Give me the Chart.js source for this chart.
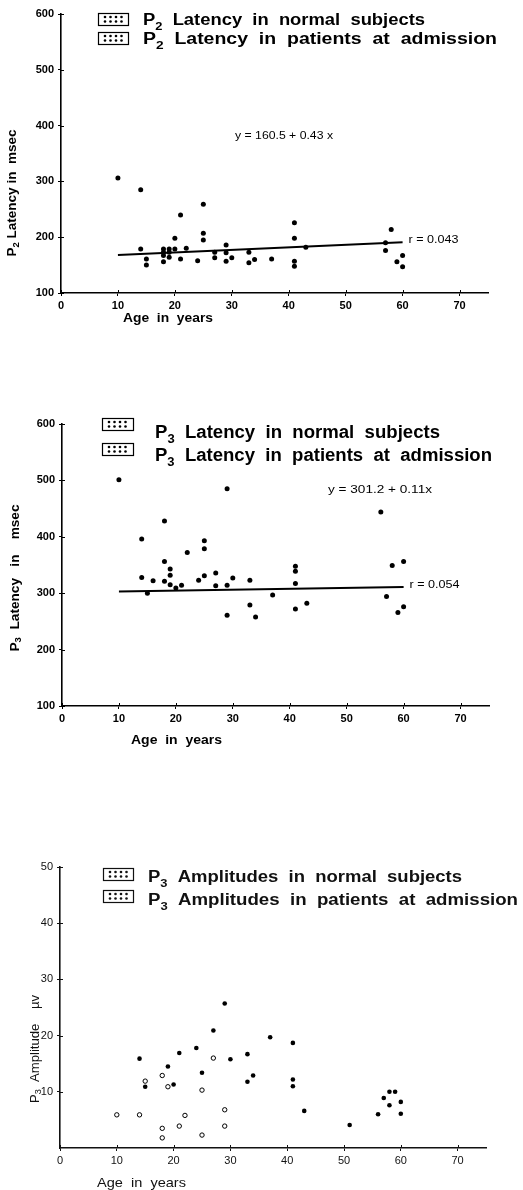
<!DOCTYPE html>
<html lang="en">
<head>
<meta charset="UTF-8">
<title>P2 / P3 latency and P3 amplitude by age</title>
<script src="https://cdn.jsdelivr.net/npm/chart.js"></script>
<style>
  body { margin: 0; background: #fff; }
  .panel { position: absolute; left: 0; width: 523px; }
  canvas { display: block; }
</style>
</head>
<body>

<div class="panel" style="top:0px"><canvas id="p2Chart" width="523" height="340"></canvas></div>
<div class="panel" style="top:400px"><canvas id="p3Chart" width="523" height="360"></canvas></div>
<div class="panel" style="top:840px"><canvas id="ampChart" width="523" height="350"></canvas></div>

<script>
// tick labels
const ageTicks = [0, 10, 20, 30, 40, 50, 60, 70];
const latencyTicks = [100, 200, 300, 400, 500, 600];
const amplitudeTicks = [10, 20, 30, 40, 50];

// P2 latency (msec) by age
const p2Ages = [10, 14, 14, 15, 15, 18, 18, 18, 18, 19, 19, 19, 20, 20, 21, 21, 22, 24, 25, 25, 25,
                27, 27, 29, 29, 29, 30, 33, 33, 34, 37, 41, 41, 41, 41, 43, 57, 57, 58, 59, 60, 60];
const p2Latency = [306, 285, 179, 161, 150, 179, 173, 167, 156, 179, 173, 164, 179, 198, 240, 161, 180, 158, 259, 207, 195,
                   173, 163, 186, 172, 157, 163, 173, 154, 160, 161, 226, 198, 157, 148, 182, 190, 176, 214, 156, 167, 147];
const p2FitAges = [10, 60];
const p2FitLatency = [168, 191];

// P3 latency (msec) by age
const p3Ages = [10, 14, 14, 15, 16, 18, 18, 18, 19, 19, 19, 20, 21, 22, 24, 25, 25, 25, 27, 27,
                29, 29, 29, 30, 33, 33, 34, 37, 41, 41, 41, 41, 43, 56, 57, 58, 59, 60, 60];
const p3Latency = [501, 396, 328, 300, 322, 428, 356, 321, 343, 332, 315, 309, 314, 372, 323, 393, 379, 331, 336, 313,
                   485, 314, 261, 327, 323, 279, 258, 297, 348, 339, 317, 272, 282, 444, 294, 349, 266, 356, 276];
const p3FitAges = [10, 60];
const p3FitLatency = [303, 311];

// P3 amplitude (µv) by age
const ampNormalAges = [10, 14, 15, 18, 18, 18, 19, 21, 22, 25, 25, 27, 29, 29];
const ampNormal = [5.9, 5.9, 11.9, 12.9, 3.5, 1.8, 10.9, 3.9, 5.8, 10.3, 2.3, 16.0, 6.8, 3.9];
const ampPatientAges = [14, 15, 19, 20, 21, 24, 25, 27, 29, 30, 33, 33, 34, 37, 41, 41, 41, 43, 51,
                        56, 57, 58, 58, 59, 60, 60];
const ampPatient = [15.9, 10.9, 14.5, 11.3, 16.9, 17.8, 13.4, 20.9, 25.7, 15.8, 16.7, 11.8, 12.9, 19.7, 18.7, 12.2, 11.0, 6.6, 4.1,
                    6.0, 8.9, 10.0, 7.6, 10.0, 8.2, 6.1];

const FAMILY = '"Liberation Sans", Arial, sans-serif';

function pts(xs, ys) {
    return xs.map((x, i) => ({ x: x, y: ys[i] }));
}

// text with subscripts, optionally stretched to a given width
function drawRich(ctx, parts, x, y, size, weight, width) {
    ctx.save();
    let w = 0;
    parts.forEach(p => {
        ctx.font = weight + ' ' + (p.sub ? size * 0.7 : size) + 'px ' + FAMILY;
        w += ctx.measureText(p.t).width;
    });
    const sx = width ? width / w : 1;
    ctx.translate(x, y);
    ctx.scale(sx, 1);
    let cx = 0;
    parts.forEach(p => {
        ctx.font = weight + ' ' + (p.sub ? size * 0.7 : size) + 'px ' + FAMILY;
        ctx.fillText(p.t, cx, p.sub ? size * 0.3 : 0);
        cx += ctx.measureText(p.t).width;
    });
    ctx.restore();
}

function drawIcon(ctx, x, y, w, h) {
    ctx.save();
    ctx.lineWidth = 1.2;
    ctx.strokeRect(x + 0.5, y + 0.5, w, h);
    for (let r = 0; r < 2; r++) {
        for (let c = 0; c < 4; c++) {
            ctx.beginPath();
            ctx.arc(x + 7 + c * 5.5, y + 4 + r * 4.5, 1.3, 0, Math.PI * 2);
            ctx.fill();
        }
    }
    ctx.restore();
}

function decorPlugin(p) {
    return {
        id: 'decor',
        afterDatasetsDraw(chart) {
            const ctx = chart.ctx;
            const area = chart.chartArea;
            ctx.save();
            ctx.fillStyle = p.textColor;
            ctx.strokeStyle = p.textColor;
            ctx.textBaseline = 'alphabetic';

            // small inner tick marks so ticks cross the axes
            ctx.lineWidth = 1;
            ctx.beginPath();
            chart.scales.x.ticks.forEach((t, i) => {
                const px = Math.round(chart.scales.x.getPixelForTick(i)) + 0.5;
                ctx.moveTo(px, area.bottom);
                ctx.lineTo(px, area.bottom - 3);
            });
            chart.scales.y.ticks.forEach((t, i) => {
                const py = Math.round(chart.scales.y.getPixelForTick(i)) + 0.5;
                ctx.moveTo(area.left, py);
                ctx.lineTo(area.left + 3, py);
            });
            ctx.stroke();

            // legend
            p.legend.forEach(l => {
                drawIcon(ctx, l.ix, l.iy, l.iw, 12);
                drawRich(ctx, l.parts, l.tx, l.ty, l.size, 'bold', l.width);
            });

            // y title, rotated
            const yt = p.yTitle;
            ctx.save();
            ctx.translate(yt.x, yt.cy);
            ctx.rotate(-Math.PI / 2);
            ctx.textBaseline = 'middle';
            drawRich(ctx, yt.parts, -yt.len / 2, 0, yt.size, yt.weight, yt.len);
            ctx.restore();

            // x title
            const xt = p.xTitle;
            drawRich(ctx, [{ t: 'Age  in  years' }], xt.x, xt.y, xt.size, xt.weight, xt.width);

            // regression labels
            if (p.eq) {
                ctx.textBaseline = 'middle';
                drawRich(ctx, [{ t: p.eq.text }], p.eq.x, p.eq.y, p.eq.size, 'normal', p.eq.width);
                const fit = chart.getDatasetMeta(p.fitIndex).data;
                const end = fit[fit.length - 1];
                drawRich(ctx, [{ t: p.r.text }], end.x + 6, end.y - 2, p.r.size, 'normal', p.r.width);
            }
            ctx.restore();
        }
    };
}

function makePanel(id, p) {
    const tickFont = { family: FAMILY, size: 11, weight: p.tickWeight };
    new Chart(document.getElementById(id), {
        type: 'scatter',
        data: { datasets: p.datasets },
        options: {
            responsive: false,
            animation: false,
            layout: { padding: { top: p.top, right: p.right, left: 0, bottom: 0 } },
            plugins: { legend: { display: false }, tooltip: { enabled: false } },
            scales: {
                x: {
                    type: 'linear', min: 0, max: 75,
                    afterBuildTicks: s => { s.ticks = ageTicks.map(v => ({ value: v })); },
                    afterFit: s => { s.height = p.xHeight; },
                    grid: { drawOnChartArea: false, tickLength: 3, color: p.textColor, lineWidth: 1 },
                    border: { color: p.textColor, width: 1.6 },
                    ticks: { color: p.textColor, font: tickFont, padding: 3, maxRotation: 0, autoSkip: false }
                },
                y: {
                    type: 'linear', min: p.yMin, max: p.yMax,
                    afterBuildTicks: s => { s.ticks = p.yTicks.map(v => ({ value: v })); },
                    afterFit: s => { s.width = p.left; },
                    grid: { drawOnChartArea: false, tickLength: 3, color: p.textColor, lineWidth: 1 },
                    border: { color: p.textColor, width: 1.6 },
                    ticks: { color: p.textColor, font: tickFont, padding: 4, autoSkip: false }
                }
            }
        },
        plugins: [decorPlugin(p)]
    });
}

const dot = { backgroundColor: '#000', borderColor: '#000', pointRadius: 2.5, borderWidth: 0 };
const fitLine = { type: 'line', showLine: true, borderColor: '#000', borderWidth: 2, pointRadius: 0, fill: false };

makePanel('p2Chart', {
    top: 14, right: 35, left: 61, xHeight: 47,
    yMin: 100, yMax: 600, yTicks: latencyTicks,
    tickWeight: 'bold', textColor: '#000',
    datasets: [
        Object.assign({ label: 'P2 latency', data: pts(p2Ages, p2Latency) }, dot),
        Object.assign({ label: 'Regression', data: pts(p2FitAges, p2FitLatency) }, fitLine)
    ],
    fitIndex: 1,
    legend: [
        { ix: 98, iy: 13, iw: 30, tx: 143, ty: 25, size: 16, width: 282,
          parts: [{ t: 'P' }, { t: '2', sub: true }, { t: '  Latency  in  normal  subjects' }] },
        { ix: 98, iy: 32, iw: 30, tx: 143, ty: 44, size: 16, width: 354,
          parts: [{ t: 'P' }, { t: '2', sub: true }, { t: '  Latency  in  patients  at  admission' }] }
    ],
    yTitle: { x: 13, cy: 193, len: 127, size: 12, weight: 'bold',
              parts: [{ t: 'P' }, { t: '2', sub: true }, { t: ' Latency in  msec' }] },
    xTitle: { x: 123, y: 322, size: 13, weight: 'bold', width: 90 },
    eq: { text: 'y = 160.5 + 0.43 x', x: 235, y: 136, size: 10, width: 98 },
    r: { text: 'r = 0.043', size: 11, width: 50 }
});

makePanel('p3Chart', {
    top: 24, right: 34, left: 62, xHeight: 54,
    yMin: 100, yMax: 600, yTicks: latencyTicks,
    tickWeight: 'bold', textColor: '#000',
    datasets: [
        Object.assign({ label: 'P3 latency', data: pts(p3Ages, p3Latency) }, dot),
        Object.assign({ label: 'Regression', data: pts(p3FitAges, p3FitLatency) }, fitLine)
    ],
    fitIndex: 1,
    legend: [
        { ix: 102, iy: 18, iw: 31, tx: 155, ty: 38, size: 18, width: 285,
          parts: [{ t: 'P' }, { t: '3', sub: true }, { t: '  Latency  in  normal  subjects' }] },
        { ix: 102, iy: 43, iw: 31, tx: 155, ty: 61, size: 18, width: 337,
          parts: [{ t: 'P' }, { t: '3', sub: true }, { t: '  Latency  in  patients  at  admission' }] }
    ],
    yTitle: { x: 15, cy: 178, len: 147, size: 13, weight: 'bold',
              parts: [{ t: 'P' }, { t: '3', sub: true }, { t: '  Latency   in    msec' }] },
    xTitle: { x: 131, y: 344, size: 13, weight: 'bold', width: 91 },
    eq: { text: 'y = 301.2 + 0.11x', x: 328, y: 90, size: 10, width: 104 },
    r: { text: 'r = 0.054', size: 11, width: 50 }
});

makePanel('ampChart', {
    top: 27, right: 37, left: 60, xHeight: 42,
    yMin: 0, yMax: 50, yTicks: amplitudeTicks,
    tickWeight: 'normal', textColor: '#111',
    datasets: [
        { label: 'Normal subjects', data: pts(ampNormalAges, ampNormal),
          backgroundColor: '#fff', borderColor: '#000', pointRadius: 2.2, borderWidth: 1 },
        Object.assign({ label: 'Patients at admission', data: pts(ampPatientAges, ampPatient) }, dot, { pointRadius: 2.3 })
    ],
    legend: [
        { ix: 103, iy: 28, iw: 30, tx: 148, ty: 42, size: 16, width: 314,
          parts: [{ t: 'P' }, { t: '3', sub: true }, { t: '  Amplitudes  in  normal  subjects' }] },
        { ix: 103, iy: 50, iw: 30, tx: 148, ty: 65, size: 16, width: 370,
          parts: [{ t: 'P' }, { t: '3', sub: true }, { t: '  Amplitudes  in  patients  at  admission' }] }
    ],
    yTitle: { x: 35, cy: 209, len: 108, size: 13, weight: 'normal',
              parts: [{ t: 'P' }, { t: '3', sub: true }, { t: '  Amplitude    \u00b5v' }] },
    xTitle: { x: 97, y: 347, size: 13, weight: 'normal', width: 89 }
});
</script>

</body>
</html>
